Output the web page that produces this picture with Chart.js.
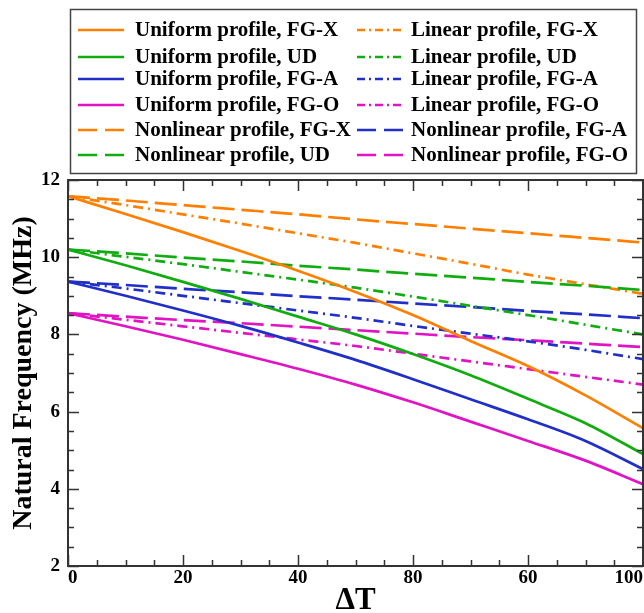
<!DOCTYPE html>
<html>
<head>
<meta charset="utf-8">
<script src="https://cdn.jsdelivr.net/npm/chart.js@4.4.1/dist/chart.umd.min.js"></script>
<style>
  html, body { margin: 0; padding: 0; background: #fff; }
  .chartBox { width: 644px; height: 613px; }
</style>
</head>
<body>
<div class="chartBox">
  <canvas id="chart" width="644" height="613"></canvas>
</div>
<script>
const deltaT = [0, 10, 20, 30, 40, 50, 60, 70, 80, 90, 100];
const xTickLabels = ["0", "20", "40", "80", "60", "100"];

const uniformFGX = [11.58, 11.12, 10.65, 10.16, 9.65, 9.1, 8.5, 7.83, 7.18, 6.42, 5.57];
const uniformUD = [10.2, 9.79, 9.36, 8.92, 8.46, 8.0, 7.49, 6.94, 6.33, 5.7, 4.9];
const uniformFGA = [9.37, 9.0, 8.62, 8.22, 7.79, 7.34, 6.84, 6.32, 5.8, 5.24, 4.51];
const uniformFGO = [8.55, 8.21, 7.86, 7.49, 7.11, 6.7, 6.24, 5.74, 5.24, 4.73, 4.12];

const linearFGX = [11.58, 11.35, 11.11, 10.87, 10.62, 10.37, 10.1, 9.83, 9.55, 9.3, 9.05];
const linearUD = [10.2, 10.01, 9.82, 9.62, 9.42, 9.21, 8.98, 8.74, 8.5, 8.25, 8.0];
const linearFGA = [9.37, 9.19, 9.0, 8.81, 8.62, 8.43, 8.22, 8.02, 7.82, 7.6, 7.36];
const linearFGO = [8.55, 8.38, 8.21, 8.04, 7.87, 7.7, 7.5, 7.3, 7.1, 6.9, 6.7];

const nonlinearFGX = [11.58, 11.47, 11.35, 11.23, 11.11, 10.98, 10.86, 10.74, 10.62, 10.5, 10.38];
const nonlinearUD = [10.2, 10.1, 9.99, 9.89, 9.78, 9.68, 9.57, 9.47, 9.36, 9.26, 9.15];
const nonlinearFGA = [9.37, 9.28, 9.18, 9.09, 8.99, 8.9, 8.8, 8.71, 8.61, 8.52, 8.42];
const nonlinearFGO = [8.55, 8.46, 8.37, 8.29, 8.2, 8.11, 8.02, 7.93, 7.85, 7.76, 7.67];

const ORANGE = "#ff7f00";
const GREEN = "#10ac10";
const BLUE = "#1f2fc8";
const MAGENTA = "#e014c4";

const SERIF = "'Liberation Serif', 'Times New Roman', serif";
const DASHED = [22, 7];
const DASH_DOT = [10, 5, 2, 5];

const toPoints = values => values.map((v, i) => ({ x: deltaT[i], y: v }));

const series = (label, values, color, dash, legendDash) => ({
  label,
  data: toPoints(values),
  borderColor: color,
  backgroundColor: color,
  borderWidth: 2.7,
  borderDash: dash,
  legendDash,
  pointRadius: 0,
  fill: false,
  cubicInterpolationMode: "monotone"
});

const datasets = [
  series("Uniform profile, FG-X", uniformFGX, ORANGE, [], []),
  series("Uniform profile, UD", uniformUD, GREEN, [], []),
  series("Uniform profile, FG-A", uniformFGA, BLUE, [], []),
  series("Uniform profile, FG-O", uniformFGO, MAGENTA, [], []),
  series("Nonlinear profile, FG-X", nonlinearFGX, ORANGE, DASHED, [19, 8]),
  series("Nonlinear profile, UD", nonlinearUD, GREEN, DASHED, [19, 8]),
  series("Linear profile, FG-X", linearFGX, ORANGE, DASH_DOT, [8, 4, 2, 4]),
  series("Linear profile, UD", linearUD, GREEN, DASH_DOT, [8, 4, 2, 4]),
  series("Linear profile, FG-A", linearFGA, BLUE, DASH_DOT, [8, 4, 2, 4]),
  series("Linear profile, FG-O", linearFGO, MAGENTA, DASH_DOT, [8, 4, 2, 4]),
  series("Nonlinear profile, FG-A", nonlinearFGA, BLUE, DASHED, [19, 8]),
  series("Nonlinear profile, FG-O", nonlinearFGO, MAGENTA, DASHED, [19, 8])
];

// legend: two columns of dataset indices, row y positions
const legendColumns = [
  { x: 78, textX: 135, items: [0, 1, 2, 3, 4, 5] },
  { x: 357, textX: 411, items: [6, 7, 8, 9, 10, 11] }
];
const legendRows = [30, 57, 79, 105, 130, 155];

const boxLegend = {
  id: "boxLegend",
  afterDraw(chart) {
    const { ctx } = chart;
    ctx.save();
    ctx.strokeStyle = "#444";
    ctx.lineWidth = 1.5;
    ctx.strokeRect(70.5, 9.5, 566, 164);
    ctx.font = "bold 21px " + SERIF;
    ctx.textBaseline = "middle";
    ctx.fillStyle = "#000";
    legendColumns.forEach(col => {
      col.items.forEach((idx, row) => {
        const ds = chart.data.datasets[idx];
        const y = legendRows[row];
        ctx.strokeStyle = ds.borderColor;
        ctx.lineWidth = 2.5;
        ctx.setLineDash(ds.legendDash);
        ctx.beginPath();
        ctx.moveTo(col.x, y);
        ctx.lineTo(col.x + 46, y);
        ctx.stroke();
        ctx.setLineDash([]);
        ctx.fillText(ds.label, col.textX, y + 1);
      });
    });
    ctx.restore();
  }
};

const innerTicks = {
  id: "innerTicks",
  afterDraw(chart) {
    const { ctx, chartArea: a } = chart;
    const xs = chart.scales.x;
    const ys = chart.scales.y;
    ctx.save();
    ctx.strokeStyle = "#333";
    ctx.lineWidth = 1.5;
    ctx.beginPath();
    for (let v = 0; v <= 100; v += 5) {
      const px = Math.round(xs.getPixelForValue(v)) + 0.5;
      const len = v % 20 === 0 ? 11 : 6;
      ctx.moveTo(px, a.bottom);
      ctx.lineTo(px, a.bottom - len);
      ctx.moveTo(px, a.top);
      ctx.lineTo(px, a.top + len);
    }
    for (let v = 2; v <= 12; v += 0.5) {
      const py = Math.round(ys.getPixelForValue(v)) + 0.5;
      const len = v % 2 === 0 ? 11 : 6;
      ctx.moveTo(a.left, py);
      ctx.lineTo(a.left + len, py);
      ctx.moveTo(a.right, py);
      ctx.lineTo(a.right - len, py);
    }
    ctx.stroke();
    ctx.lineWidth = 2;
    ctx.strokeRect(a.left, a.top, a.right - a.left, a.bottom - a.top);
    ctx.restore();
  }
};

const ctx = document.getElementById("chart");

new Chart(ctx, {
  type: "line",
  data: { datasets },
  options: {
    responsive: false,
    animation: false,
    layout: { padding: { top: 180, right: 1, left: 0, bottom: 0 } },
    plugins: {
      legend: { display: false },
      tooltip: { enabled: false }
    },
    scales: {
      x: {
        type: "linear",
        min: 0,
        max: 100,
        afterFit: scale => {
          scale.height = 47;
          scale.paddingLeft = 0;
          scale.paddingRight = 0;
        },
        grid: { display: false, drawTicks: false },
        border: { display: false },
        ticks: {
          stepSize: 20,
          padding: 1,
          align: "inner",
          color: "#000",
          font: { family: SERIF, size: 19, weight: "bold" },
          callback: (value, index) => xTickLabels[index]
        },
        title: {
          display: true,
          text: "ΔT",
          color: "#000",
          padding: 0,
          font: { family: SERIF, size: 31, weight: "bold", lineHeight: 0.8 }
        }
      },
      y: {
        min: 2,
        max: 12,
        afterFit: scale => {
          scale.width = 68;
          scale.paddingTop = 0;
          scale.paddingBottom = 0;
        },
        grid: { display: false, drawTicks: false },
        border: { display: false },
        ticks: {
          stepSize: 2,
          padding: 8,
          color: "#000",
          font: { family: SERIF, size: 19, weight: "bold" }
        },
        title: {
          display: true,
          text: "Natural Frequency (MHz)",
          color: "#000",
          padding: { top: 10, bottom: 0 },
          font: { family: SERIF, size: 28, weight: "bold", lineHeight: 1 }
        }
      }
    }
  },
  plugins: [innerTicks, boxLegend]
});
</script>
</body>
</html>
